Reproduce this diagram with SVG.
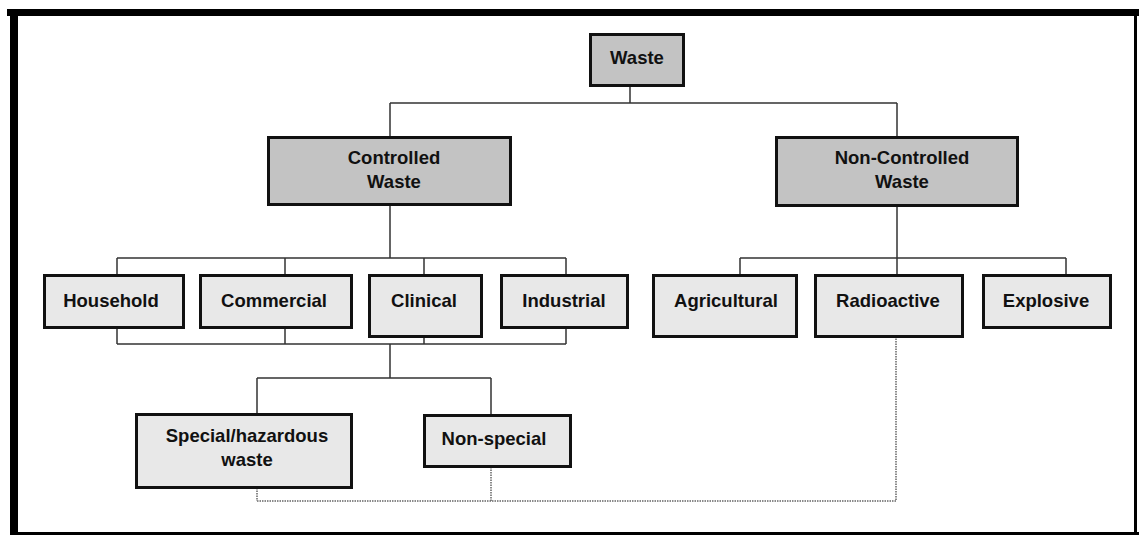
<svg xmlns="http://www.w3.org/2000/svg" width="1139" height="535" viewBox="0 0 1139 535">
<style>
.top rect{fill:#c3c3c3;stroke:#111;stroke-width:3}
.sub rect{fill:#e8e8e8;stroke:#111;stroke-width:3}
text{font-family:"Liberation Sans",Arial,sans-serif;font-weight:bold;font-size:18.5px;fill:#111;text-anchor:middle}
.ln{fill:none;stroke:#333;stroke-width:1.5}
.dt{fill:none;stroke:#666;stroke-width:1.5;stroke-dasharray:1.5 1}
</style>
<rect width="1139" height="535" fill="#fff"/>
<g id="frame" fill="#000">
<rect x="7" y="9" width="1132" height="7"/>
<rect x="10" y="9" width="8" height="526"/>
<rect x="1134" y="9" width="3" height="526"/>
<rect x="10" y="532" width="1129" height="3"/>
</g>
<g id="connectors">
<path class="ln" d="M630 87V103M390 103H897M390 103V136M897 103V136"/>
<path class="ln" d="M390 206V258M117 258H566M117 258V274M285 258V274M424 258V274M566 258V274"/>
<path class="ln" d="M117 328V344M285 328V344M424 338V344M566 328V344M117 344H566M390 344V378M257 378H491M257 378V413M491 378V414"/>
<path class="ln" d="M897 207V274M740 258H1066M740 258V274M1066 258V274"/>
<path class="dt" d="M257 488V501M491 467V501M257 501H896V338"/>
</g>
<g id="waste" class="top"><rect x="590.5" y="34.5" width="93" height="51"/><text x="637" y="64">Waste</text></g>
<g id="controlled" class="top"><rect x="268.5" y="137.5" width="242" height="67"/><text x="394" y="164">Controlled</text><text x="394" y="188">Waste</text></g>
<g id="noncontrolled" class="top"><rect x="776.5" y="137.5" width="241" height="68"/><text x="902" y="164">Non-Controlled</text><text x="902" y="188">Waste</text></g>
<g id="household" class="sub"><rect x="44.5" y="275.5" width="139" height="52"/><text x="111" y="307">Household</text></g>
<g id="commercial" class="sub"><rect x="200.5" y="275.5" width="151" height="52"/><text x="274" y="307">Commercial</text></g>
<g id="clinical" class="sub"><rect x="369.5" y="275.5" width="112" height="61"/><text x="424" y="307">Clinical</text></g>
<g id="industrial" class="sub"><rect x="501.5" y="275.5" width="126" height="52"/><text x="564" y="307">Industrial</text></g>
<g id="agricultural" class="sub"><rect x="653.5" y="275.5" width="143" height="61"/><text x="726" y="307">Agricultural</text></g>
<g id="radioactive" class="sub"><rect x="815.5" y="275.5" width="147" height="61"/><text x="888" y="307">Radioactive</text></g>
<g id="explosive" class="sub"><rect x="983.5" y="275.5" width="127" height="52"/><text x="1046" y="307">Explosive</text></g>
<g id="special" class="sub"><rect x="136.5" y="414.5" width="215" height="73"/><text x="247" y="442">Special/hazardous</text><text x="247" y="466">waste</text></g>
<g id="nonspecial" class="sub"><rect x="424.5" y="415.5" width="146" height="51"/><text x="494" y="445">Non-special</text></g>
</svg>
